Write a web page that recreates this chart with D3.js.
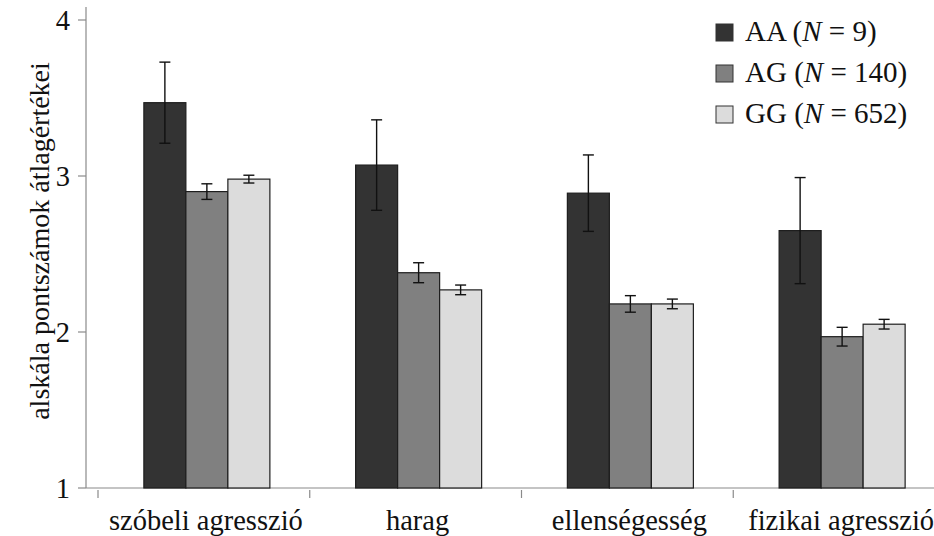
<!DOCTYPE html>
<html>
<head>
<meta charset="utf-8">
<script src="https://cdn.jsdelivr.net/npm/d3@7/dist/d3.min.js"></script>
<style>
  html, body { margin: 0; padding: 0; background: #fff; }
</style>
</head>
<body>
<svg id="chart" width="934" height="536"></svg>
<script>
// Scale categories and genotype groups
const categories = ["szóbeli agresszió", "harag", "ellenségesség", "fizikai agresszió"];
const groups = ["AA", "AG", "GG"];
const groupN = [9, 140, 652];
const groupColors = ["#333333", "#808080", "#dcdcdc"];

// Mean scale scores per group (one value per category)
const meansAA = [3.47, 3.07, 2.89, 2.65];
const meansAG = [2.90, 2.38, 2.18, 1.97];
const meansGG = [2.98, 2.27, 2.18, 2.05];

// Standard errors per group
const errAA = [0.26, 0.29, 0.245, 0.34];
const errAG = [0.05, 0.064, 0.053, 0.06];
const errGG = [0.025, 0.031, 0.031, 0.031];

const yTicks = [1, 2, 3, 4];
const yTitle = "alskála pontszámok átlagértékei";

const means = [meansAA, meansAG, meansGG];
const errs = [errAA, errAG, errGG];

const svg = d3.select("#chart");
const ink = "#111";
const serif = '"Liberation Serif"';
const fs = 28.5;

const y = d3.scaleLinear().domain([1, 4]).range([488, 20]);
const x0 = d3.scaleBand().domain(categories).range([98, 945]).paddingInner(0).paddingOuter(0);
const x1 = d3.scaleBand().domain(groups).range([0, 126]);
const groupOffset = (x0.bandwidth() - 126) / 2 + 3;

// Y axis
const yAxis = svg.append("g").attr("transform", "translate(86,0)");
yAxis.append("line").attr("x1", 0).attr("x2", 0).attr("y1", 7).attr("y2", y(1))
  .attr("stroke", "#8a8a8a").attr("stroke-width", 1.2);
yAxis.selectAll("line.tick").data(yTicks).join("line").attr("class", "tick")
  .attr("x1", -8).attr("x2", 0).attr("y1", d => y(d)).attr("y2", d => y(d))
  .attr("stroke", "#8a8a8a").attr("stroke-width", 1.2);
yAxis.selectAll("text").data(yTicks).join("text")
  .attr("x", -16).attr("y", d => y(d)).attr("dy", "0.35em")
  .attr("text-anchor", "end").style("font-family", serif).attr("font-size", fs)
  .attr("fill", ink).text(d => d);

svg.append("text")
  .attr("transform", `translate(49,${(y(1) + y(4)) / 2 - 13}) rotate(-90)`)
  .attr("text-anchor", "middle").style("font-family", serif).attr("font-size", 28)
  .attr("fill", ink).text(yTitle);

// X axis
svg.append("line").attr("x1", 86).attr("x2", 934).attr("y1", y(1)).attr("y2", y(1))
  .attr("stroke", "#8a8a8a").attr("stroke-width", 1.2);
const edges = categories.map(c => x0(c));
svg.selectAll("line.xtick").data(edges).join("line").attr("class", "xtick")
  .attr("x1", d => d).attr("x2", d => d).attr("y1", y(1) + 2).attr("y2", y(1) + 10)
  .attr("stroke", "#8a8a8a").attr("stroke-width", 1.2);
svg.selectAll("text.xlab").data(categories).join("text").attr("class", "xlab")
  .attr("x", d => x0(d) + x0.bandwidth() / 2 + 2).attr("y", 530)
  .attr("text-anchor", "middle").style("font-family", serif).attr("font-size", fs)
  .attr("fill", ink).text(d => d);

// Bars
const cells = [];
groups.forEach((g, gi) => {
  categories.forEach((c, ci) => {
    cells.push({ g, gi, c, v: means[gi][ci], e: errs[gi][ci] });
  });
});

const barG = svg.append("g");
barG.selectAll("rect").data(cells).join("rect")
  .attr("x", d => x0(d.c) + groupOffset + x1(d.g))
  .attr("y", d => y(d.v))
  .attr("width", x1.bandwidth())
  .attr("height", d => y(1) - y(d.v))
  .attr("fill", d => groupColors[d.gi])
  .attr("stroke", "#1e1e1e").attr("stroke-width", 1.2);

// Error bars
const errG = svg.append("g").attr("stroke", "#111").attr("stroke-width", 1.4);
cells.forEach(d => {
  const cx = x0(d.c) + groupOffset + x1(d.g) + x1.bandwidth() / 2;
  const t = y(d.v + d.e), b = y(d.v - d.e);
  errG.append("line").attr("x1", cx).attr("x2", cx).attr("y1", t).attr("y2", b);
  errG.append("line").attr("x1", cx - 5.5).attr("x2", cx + 5.5).attr("y1", t).attr("y2", t);
  errG.append("line").attr("x1", cx - 5.5).attr("x2", cx + 5.5).attr("y1", b).attr("y2", b);
});

// Legend
const legend = svg.append("g").attr("transform", "translate(716,24)");
const items = legend.selectAll("g").data(groups).join("g")
  .attr("transform", (d, i) => `translate(0,${i * 41})`);
items.append("rect").attr("width", 17).attr("height", 17)
  .attr("fill", (d, i) => groupColors[i]).attr("stroke", "#333").attr("stroke-width", 1);
const lt = items.append("text").attr("x", 29).attr("y", 17)
  .style("font-family", serif).attr("font-size", 29).attr("fill", ink);
lt.append("tspan").text(d => d + " (");
lt.append("tspan").attr("font-style", "italic").text("N");
lt.append("tspan").text((d, i) => " = " + groupN[i] + ")");
</script>
</body>
</html>
